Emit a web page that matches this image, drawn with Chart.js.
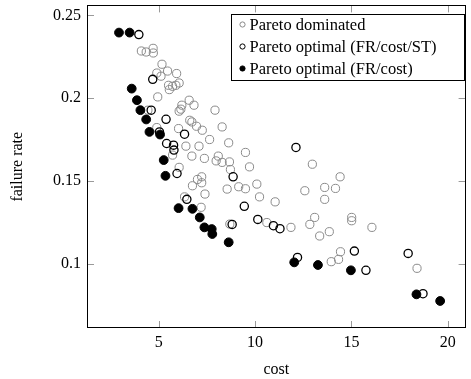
<!DOCTYPE html>
<html>
<head>
<meta charset="utf-8">
<script src="https://cdn.jsdelivr.net/npm/chart.js@4"></script>
<style>
  html, body { margin: 0; padding: 0; background: #fff; }
  #wrap { width: 471px; height: 379px; }
</style>
</head>
<body>
<div id="wrap"><canvas id="c" width="471" height="379"></canvas></div>
<script>
// ---- Data ----
const seriesLabels = ['Pareto dominated', 'Pareto optimal (FR/cost/ST)', 'Pareto optimal (FR/cost)'];

const dominatedCost = [4.10, 4.35, 4.71, 4.72, 5.17, 4.90, 5.46, 5.93, 5.12, 5.51, 5.55, 5.89, 6.06, 5.72, 4.95, 6.58, 6.83, 6.20, 6.15, 6.06, 4.44, 7.92, 6.61, 6.72, 6.96, 7.26, 8.29, 7.64, 8.63, 6.41, 7.09, 6.03, 4.90, 6.72, 7.37, 5.72, 6.06, 7.01, 7.23, 6.75, 7.40, 6.34, 7.20, 9.50, 8.09, 7.98, 8.29, 8.67, 8.72, 9.71, 7.23, 8.55, 9.15, 9.50, 10.09, 10.23, 11.04, 12.97, 12.58, 13.61, 13.61, 8.69, 10.61, 11.86, 12.84, 13.09, 13.35, 13.85, 14.41, 14.17, 15.01, 15.01, 16.06, 13.95, 14.33, 14.43, 18.40];
const dominatedFR   = [0.2285, 0.2279, 0.2301, 0.2273, 0.2205, 0.2152, 0.2164, 0.2149, 0.2133, 0.2078, 0.2052, 0.2078, 0.2092, 0.2072, 0.2008, 0.1988, 0.1958, 0.1958, 0.1934, 0.1922, 0.1928, 0.1928, 0.1867, 0.1857, 0.1831, 0.1807, 0.1827, 0.1751, 0.1731, 0.1711, 0.1711, 0.1817, 0.1823, 0.1651, 0.1637, 0.1657, 0.1583, 0.1510, 0.1490, 0.1472, 0.1422, 0.1405, 0.1342, 0.1673, 0.1651, 0.1622, 0.1613, 0.1616, 0.1570, 0.1586, 0.1526, 0.1452, 0.1466, 0.1454, 0.1482, 0.1405, 0.1375, 0.1602, 0.1442, 0.1462, 0.1390, 0.1241, 0.1250, 0.1221, 0.1239, 0.1281, 0.1169, 0.1195, 0.1526, 0.1456, 0.1281, 0.1261, 0.1221, 0.1014, 0.1028, 0.1074, 0.0974];

const optSTCost = [3.97, 4.69, 4.61, 5.38, 5.04, 6.34, 5.41, 5.77, 5.79, 5.95, 6.46, 8.81, 8.86, 9.44, 10.14, 10.95, 11.29, 12.12, 12.20, 15.15, 15.75, 17.94, 18.71];
const optSTFR   = [0.2384, 0.2114, 0.1928, 0.1873, 0.1797, 0.1783, 0.1727, 0.1717, 0.1687, 0.1546, 0.1390, 0.1239, 0.1526, 0.1348, 0.1269, 0.1231, 0.1213, 0.1703, 0.1040, 0.1078, 0.0962, 0.1064, 0.0821];

const optCost = [2.94, 3.49, 3.60, 3.87, 4.05, 4.35, 4.52, 5.07, 5.26, 5.35, 6.03, 6.75, 7.13, 7.37, 7.75, 7.78, 8.63, 12.03, 13.26, 14.97, 18.37, 19.60];
const optFR   = [0.2396, 0.2396, 0.2058, 0.1988, 0.1928, 0.1872, 0.1797, 0.1781, 0.1627, 0.1532, 0.1337, 0.1333, 0.1281, 0.1221, 0.1211, 0.1181, 0.1131, 0.1010, 0.0994, 0.0962, 0.0817, 0.0777];

const xTicks = [5, 10, 15, 20];
const yTicks = [0.1, 0.15, 0.2, 0.25];
const xTitle = 'cost';
const yTitle = 'failure rate';

const toPts = (xs, ys) => xs.map((x, i) => ({ x: x, y: ys[i] }));

const FONT = '"Liberation Serif", "Times New Roman", serif';

// inward ticks on all four sides + black frame + legend box
const framePlugin = {
  id: 'frame',
  afterDatasetsDraw(chart) {
    const { ctx, chartArea: a, scales } = chart;
    const L = 7;
    ctx.save();
    ctx.strokeStyle = '#9a9a9a';
    ctx.lineWidth = 1;
    scales.x.ticks.forEach(t => {
      const px = Math.round(scales.x.getPixelForValue(t.value)) + 0.5;
      ctx.beginPath();
      ctx.moveTo(px, a.bottom); ctx.lineTo(px, a.bottom - L);
      ctx.moveTo(px, a.top); ctx.lineTo(px, a.top + L);
      ctx.stroke();
    });
    scales.y.ticks.forEach(t => {
      const py = Math.round(scales.y.getPixelForValue(t.value)) + 0.5;
      ctx.beginPath();
      ctx.moveTo(a.left, py); ctx.lineTo(a.left + L, py);
      ctx.moveTo(a.right, py); ctx.lineTo(a.right - L, py);
      ctx.stroke();
    });
    ctx.strokeStyle = '#000';
    ctx.lineWidth = 1;
    ctx.strokeRect(Math.round(a.left) + 0.5, Math.round(a.top) + 0.5,
                   Math.round(a.right - a.left) - 1, Math.round(a.bottom - a.top) - 1);
    ctx.restore();
  },
  afterDraw(chart) {
    const { ctx } = chart;
    const bx = 231.5, by = 14.5, bw = 233, bh = 66;
    ctx.save();
    ctx.fillStyle = '#fff';
    ctx.fillRect(bx, by, bw, bh);
    ctx.strokeStyle = '#000';
    ctx.lineWidth = 1;
    ctx.strokeRect(bx, by, bw, bh);
    ctx.font = '16.5px ' + FONT;
    ctx.textBaseline = 'middle';
    ctx.textAlign = 'left';
    chart.data.datasets.forEach((ds, i) => {
      const cy = by + 10 + i * 22;
      ctx.beginPath();
      ctx.arc(bx + 11, cy, 2.6, 0, Math.PI * 2);
      if (ds.pointBackgroundColor && ds.pointBackgroundColor !== 'rgba(0,0,0,0)') {
        ctx.fillStyle = ds.pointBackgroundColor;
        ctx.fill();
      }
      ctx.strokeStyle = ds.pointBorderColor;
      ctx.lineWidth = 1;
      ctx.stroke();
      ctx.fillStyle = '#000';
      ctx.fillText(ds.label, bx + 18, cy + 1);
    });
    ctx.restore();
  }
};

function noPad(s) { s.paddingTop = 0; s.paddingBottom = 0; s.paddingLeft = 0; s.paddingRight = 0; }

new Chart(document.getElementById('c'), {
  type: 'scatter',
  data: {
    datasets: [
      {
        label: seriesLabels[0],
        data: toPts(dominatedCost, dominatedFR),
        pointRadius: 4.1, pointHoverRadius: 4.1,
        pointBorderWidth: 1,
        pointBorderColor: '#8a8a8a',
        pointBackgroundColor: 'rgba(0,0,0,0)',
        order: 3
      },
      {
        label: seriesLabels[1],
        data: toPts(optSTCost, optSTFR),
        pointRadius: 4.1, pointHoverRadius: 4.1,
        pointBorderWidth: 1.3,
        pointBorderColor: '#000',
        pointBackgroundColor: 'rgba(0,0,0,0)',
        order: 2
      },
      {
        label: seriesLabels[2],
        data: toPts(optCost, optFR),
        pointRadius: 4.4, pointHoverRadius: 4.4,
        pointBorderWidth: 1,
        pointBorderColor: '#000',
        pointBackgroundColor: '#000',
        order: 1
      }
    ]
  },
  options: {
    responsive: false,
    animation: false,
    devicePixelRatio: 1,
    layout: { padding: { top: 5, right: 1, left: 0, bottom: 0 } },
    plugins: { legend: { display: false }, tooltip: { enabled: false } },
    scales: {
      x: {
        type: 'linear',
        min: 1.28, max: 20.92,
        afterFit(s) { s.height = 51; noPad(s); },
        afterBuildTicks(s) { s.ticks = xTicks.map(v => ({ value: v })); },
        grid: { display: false, drawTicks: false },
        border: { display: false },
        ticks: {
          padding: 5,
          color: '#000',
          maxRotation: 0,
          font: { family: FONT, size: 16 },
          callback: v => String(v)
        },
        title: {
          display: true, text: xTitle, color: '#000',
          font: { family: FONT, size: 16 },
          padding: { top: 0, bottom: 0 }
        }
      },
      y: {
        type: 'linear',
        min: 0.0614, max: 0.2560,
        afterFit(s) { s.width = 87; noPad(s); },
        afterBuildTicks(s) { s.ticks = yTicks.map(v => ({ value: v })); },
        grid: { display: false, drawTicks: false },
        border: { display: false },
        ticks: {
          padding: 6,
          color: '#000',
          font: { family: FONT, size: 16 },
          callback: v => String(+v.toFixed(2))
        },
        title: {
          display: true, text: yTitle, color: '#000',
          font: { family: FONT, size: 16 },
          padding: { top: 8, bottom: 0 }
        }
      }
    }
  },
  plugins: [framePlugin]
});
</script>
</body>
</html>
